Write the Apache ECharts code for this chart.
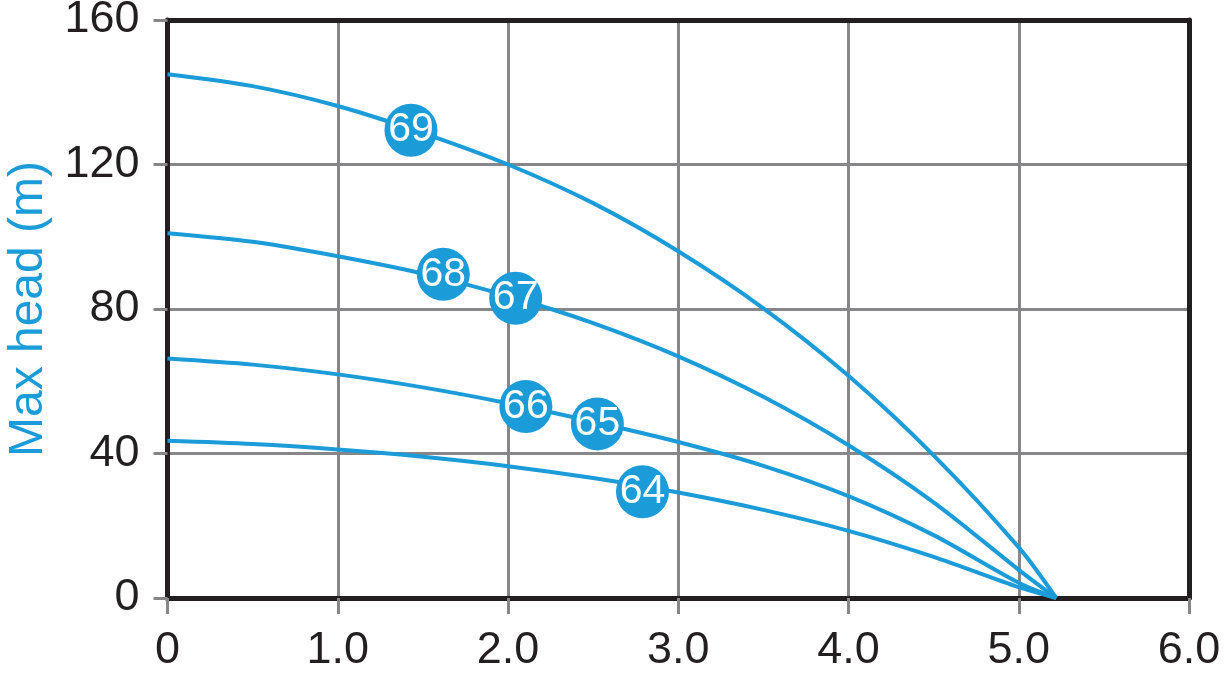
<!DOCTYPE html>
<html>
<head>
<meta charset="utf-8">
<script src="https://cdn.jsdelivr.net/npm/echarts@6/dist/echarts.min.js"></script>
<style>
html,body{margin:0;padding:0;background:#fff;}
#chart{width:1225px;height:674px;}
</style>
</head>
<body>
<div id="chart"></div>
<script>
// Flow (x) sample points
const flowX = [0, 0.5, 1.0, 1.5, 2.0, 2.5, 3.0, 3.5, 4.0, 4.5, 5.0, 5.22];
// Head curves (m)
const head69 = [145, 141.7, 136.2, 128.7, 120, 109.3, 96, 80.2, 61.5, 39.5, 14, 0];
const head6867 = [101, 98.6, 94.6, 89.8, 83.6, 76.1, 66.9, 55.7, 42.3, 26.5, 7.8, 0];
const head6665 = [66.3, 64.6, 61.9, 58.3, 53.9, 48.8, 43.2, 36.6, 28.2, 17.4, 4.2, 0];
const head64 = [43.5, 42.6, 41.1, 39.1, 36.5, 33.2, 29.2, 24.4, 18.6, 11.4, 3.0, 0];
// Curve badges
const badgeText = ['69', '68', '67', '66', '65', '64'];
const badgeX = [1.43, 1.62, 2.045, 2.105, 2.525, 2.79];
const badgeY = [129.5, 89.6, 83.0, 53.0, 48.2, 29.4];
// Axis ticks
const xTicks = [0, 1, 2, 3, 4, 5, 6];
const yTicks = [0, 40, 80, 120, 160];

const BLUE = '#1b9bd8';
const GRAY = '#87878a';
const BLACK = '#231f20';
const FONT = 'Liberation Sans, Arial, sans-serif';

function pairs(ys) { return flowX.map((x, i) => [x, ys[i]]); }

function curve(ys) {
  return {
    type: 'line', data: pairs(ys), smooth: 0.3, showSymbol: false, symbol: 'none',
    lineStyle: { color: BLUE, width: 4 }, z: 3, silent: true
  };
}

const chart = echarts.init(document.getElementById('chart'), null, { renderer: 'canvas' });
chart.setOption({
  animation: false,
  backgroundColor: '#fff',
  grid: { left: 167.5, right: 36, top: 20, bottom: 76, containLabel: false, outerBoundsMode: 'none' },
  xAxis: [{
    type: 'value', min: 0, max: 6, interval: 1,
    axisLine: { show: true, onZero: false, lineStyle: { color: BLACK, width: 5 } },
    axisTick: { show: true, length: 16, lineStyle: { color: GRAY, width: 3 } },
    splitLine: { show: true, lineStyle: { color: GRAY, width: 3 } },
    axisLabel: {
      fontSize: 45, color: BLACK, fontFamily: FONT, margin: 30,
      formatter: v => v === 0 ? '0' : v.toFixed(1)
    }
  }, {
    type: 'value', position: 'top', min: 0, max: 6,
    axisLine: { show: true, onZero: false, lineStyle: { color: BLACK, width: 5 } },
    axisTick: { show: false }, axisLabel: { show: false }, splitLine: { show: false }
  }],
  yAxis: [{
    type: 'value', min: 0, max: 160, interval: 40,
    name: 'Max head (m)', nameLocation: 'middle', nameGap: 115,
    nameTextStyle: { fontSize: 48, color: BLUE, fontFamily: FONT },
    axisLine: { show: true, onZero: false, lineStyle: { color: BLACK, width: 5 } },
    axisTick: { show: true, length: 14, lineStyle: { color: GRAY, width: 3 } },
    splitLine: { show: true, lineStyle: { color: GRAY, width: 3 } },
    axisLabel: { fontSize: 45, color: BLACK, fontFamily: FONT, margin: 28 }
  }, {
    type: 'value', position: 'right', min: 0, max: 160,
    axisLine: { show: true, onZero: false, lineStyle: { color: BLACK, width: 5 } },
    axisTick: { show: false }, axisLabel: { show: false }, splitLine: { show: false }
  }],
  series: [
    curve(head69), curve(head6867), curve(head6665), curve(head64),
    {
      type: 'scatter', symbol: 'circle', symbolSize: 53, z: 5, silent: true,
      itemStyle: { color: BLUE, opacity: 1 },
      data: badgeText.map((t, i) => ({ name: t, value: [badgeX[i], badgeY[i]] })),
      label: {
        show: true, position: 'inside', formatter: p => p.name,
        color: '#fff', fontSize: 41, fontFamily: FONT
      }
    }
  ]
});
</script>
</body>
</html>
